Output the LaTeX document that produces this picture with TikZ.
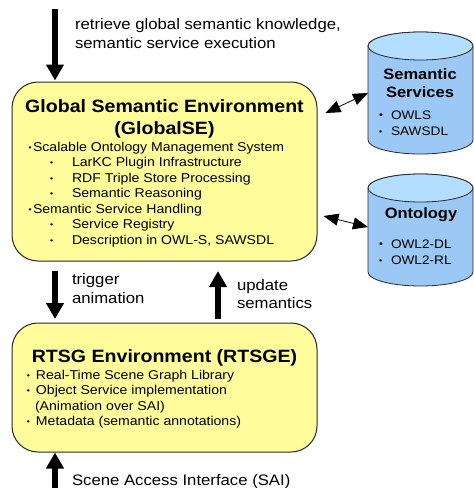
\documentclass[tikz,border=0pt]{standalone}
\usepackage{fontspec}
\setmainfont{Liberation Sans}[FakeStretch=1.1]
\usetikzlibrary{arrows.meta,calc}
\definecolor{boxyellow}{RGB}{255,252,155}
\definecolor{cylbodyc}{RGB}{155,200,245}
\definecolor{cyltopc}{RGB}{180,222,255}
\definecolor{edgec}{RGB}{40,40,40}
\newcommand\titlefnt{\fontsize{17.8}{20}\selectfont\bfseries}
\newcommand\bodyfnt{\fontsize{12.8}{15}\selectfont}
\newcommand\labfnt{\fontsize{15.2}{18}\selectfont}
\newcommand\cyltitlefnt{\fontsize{15}{18}\selectfont\bfseries}
\newcommand\cylbodyfnt{\fontsize{12.4}{15}\selectfont}
\newcommand\mydot{\raisebox{1pt}{\fontsize{8}{8}\selectfont\textbullet}}
\newcommand\cyldot{\raisebox{0.5pt}{\fontsize{10}{10}\selectfont\textbullet}}
\tikzset{
  envbox/.style={draw=edgec, line width=1pt, fill=boxyellow, rounded corners=26pt, inner sep=0},
  txt/.style={anchor=base west, inner sep=0, outer sep=0},
  ctxt/.style={anchor=base, inner sep=0, outer sep=0},
  bigarrow/.style={line width=6pt, -{Triangle[length=16pt,width=17pt]}, black},
  dblarrow/.style={line width=0.8pt, {Triangle[length=15pt,width=12pt]}-{Triangle[length=15pt,width=12pt]}, black},
  cylline/.style={draw=edgec, line width=0.8pt},
  holder/.style={inner sep=0, outer sep=0, draw=none}
}
\begin{document}
\begin{tikzpicture}[x=1pt,y=1pt]
\useasboundingbox (0,0) rectangle (474,-488);

% ---- cylinders ----
\node[holder, minimum width=105pt, minimum height=122pt] (sem) at (420.5,-93) {};
\node[holder, minimum width=105pt, minimum height=112pt] (ont) at (420.5,-230) {};

\path[cylline, fill=cylbodyc] (368,-46) -- (368,-140) arc[start angle=180,end angle=360,x radius=52.5,y radius=14] -- (473,-46) arc[start angle=0,end angle=180,x radius=52.5,y radius=14] -- cycle;
\path[cylline, fill=cyltopc] (420.5,-46) ellipse[x radius=52.5,y radius=14];

\path[cylline, fill=cylbodyc] (368,-188) -- (368,-272) arc[start angle=180,end angle=360,x radius=52.5,y radius=14] -- (473,-188) arc[start angle=0,end angle=180,x radius=52.5,y radius=14] -- cycle;
\path[cylline, fill=cyltopc] (420.5,-188) ellipse[x radius=52.5,y radius=14];

\node[ctxt] (semt1) at (420,-79) {\cyltitlefnt Semantic};
\node[ctxt] (semt2) at (420,-97) {\cyltitlefnt Services};
\node[txt] (semb1) at (379,-119) {\cylbodyfnt\makebox[12pt][l]{\cyldot}OWLS};
\node[txt] (semb2) at (379,-135) {\cylbodyfnt\makebox[12pt][l]{\mydot}SAWSDL};

\node[ctxt] (ontt) at (421,-218) {\cyltitlefnt Ontology};
\node[txt] (ontb1) at (379,-248) {\cylbodyfnt\makebox[12pt][l]{\cyldot}OWL2-DL};
\node[txt] (ontb2) at (379,-264) {\cylbodyfnt\makebox[12pt][l]{\mydot}OWL2-RL};

% ---- environment boxes ----
\node[envbox, minimum width=305pt, minimum height=179pt] (glob) at (164.5,-171.5) {};
\node[envbox, minimum width=305pt, minimum height=129pt] (rtsg) at (164.5,-387.5) {};

% GlobalSE text
\node[ctxt] (gt1) at (164.5,-112) {\titlefnt Global Semantic Environment};
\node[ctxt] (gt2) at (164.5,-134) {\titlefnt (GlobalSE)};
\node[txt] (g1) at (28.5,-151) {\bodyfnt\makebox[4.5pt][l]{\mydot}Scalable Ontology Management System};
\node[txt] (g2) at (50,-166.5) {\bodyfnt\makebox[22pt][l]{\mydot}LarKC Plugin Infrastructure};
\node[txt] (g3) at (50,-182) {\bodyfnt\makebox[22pt][l]{\mydot}RDF Triple Store Processing};
\node[txt] (g4) at (50,-197.5) {\bodyfnt\makebox[22pt][l]{\mydot}Semantic Reasoning};
\node[txt] (g5) at (28.5,-213) {\bodyfnt\makebox[4.5pt][l]{\mydot}Semantic Service Handling};
\node[txt] (g6) at (50,-228.5) {\bodyfnt\makebox[22pt][l]{\mydot}Service Registry};
\node[txt] (g7) at (50,-244) {\bodyfnt\makebox[22pt][l]{\mydot}Description in OWL-S, SAWSDL};

% RTSGE text
\node[ctxt] (rt) at (164.5,-362.5) {\titlefnt RTSG Environment (RTSGE)};
\node[txt] (r1) at (27,-379) {\bodyfnt\makebox[9pt][l]{\mydot}Real-Time Scene Graph Library};
\node[txt] (r2) at (27,-394.5) {\bodyfnt\makebox[9pt][l]{\mydot}Object Service implementation};
\node[txt] (r3) at (35,-410) {\bodyfnt (Animation over SAI)};
\node[txt] (r4) at (27,-425.5) {\bodyfnt\makebox[9pt][l]{\mydot}Metadata (semantic annotations)};

% ---- outer labels ----
\node[txt] (l1) at (75,-29) {\labfnt retrieve global semantic knowledge,};
\node[txt] (l2) at (75,-48) {\labfnt semantic service execution};
\node[txt] (l3) at (72,-284) {\labfnt trigger};
\node[txt] (l4) at (72,-303) {\labfnt animation};
\node[txt] (l5) at (237,-290) {\labfnt update};
\node[txt] (l6) at (237,-308) {\labfnt semantics};
\node[txt] (l7) at (72,-485) {\labfnt Scene Access Interface (SAI)};

% ---- arrows ----
\coordinate (topstart) at (55,-9);
\coordinate (botstart) at (55,-488);
\coordinate (trigA) at (55,-271);
\coordinate (trigB) at (55,-319);
\coordinate (updA) at (218,-319);
\coordinate (updB) at (218,-271);

\draw[bigarrow] (topstart) -- ([yshift=1pt]glob.north -| topstart);
\draw[bigarrow] (trigA) -- (trigB);
\draw[bigarrow] (updA) -- (updB);
\draw[bigarrow] (botstart) -- (rtsg.south -| botstart);

\draw[dblarrow] ($(glob.east)+(8,58.5)$) -- (sem.west);
\draw[dblarrow] ($(glob.east)+(6,-44.5)$) -- ([yshift=3pt]ont.west);
\end{tikzpicture}
\end{document}
